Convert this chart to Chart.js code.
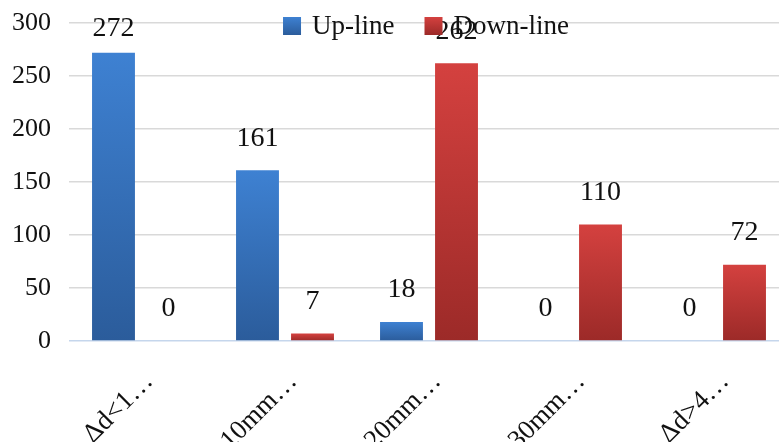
<!DOCTYPE html>
<html>
<head>
    <title>Up-line / Down-line</title>
    <script src="https://cdn.jsdelivr.net/npm/chart.js@4/dist/chart.umd.min.js"></script>
    <style>
        body {
            margin: 0;
            padding: 0;
            background: #ffffff;
            overflow: hidden;
        }
        #wrap {
            width: 790px;
            height: 442px;
        }
    </style>
</head>
<body>
    <div id="wrap">
        <canvas id="countChart" width="790" height="442"></canvas>
    </div>

    <script>
        // Deviation classes and counts per line
        const categories = ['Δd<10mm', '10mm≤Δd<20mm', '20mm≤Δd<30mm', '30mm≤Δd<40mm', 'Δd>40mm'];
        const seriesNames = ['Up-line', 'Down-line'];
        const upLine = [272, 161, 18, 0, 0];
        const downLine = [0, 7, 262, 110, 72];
        const yTicks = [0, 50, 100, 150, 200, 250, 300];

        const FONT = "'Liberation Serif', 'Times New Roman', serif";
        const colors = [
            { top: '#3e81d2', bottom: '#2b5c9b' },
            { top: '#d4413f', bottom: '#9c2a28' }
        ];

        // Short label like Excel does when the text doesn't fit
        function shorten(label) {
            return label.slice(0, 4) + '…';
        }

        // Vertical gradient over the height of each bar
        function barFill(c) {
            return function (ctx) {
                const chart = ctx.chart;
                if (!chart.chartArea || ctx.type !== 'data') return c.bottom;
                const y = chart.scales.y;
                const y0 = y.getPixelForValue(ctx.parsed.y);
                const y1 = y.getPixelForValue(0);
                if (y1 - y0 < 1) return c.bottom;
                const g = chart.ctx.createLinearGradient(0, y0, 0, y1);
                g.addColorStop(0, c.top);
                g.addColorStop(1, c.bottom);
                return g;
            };
        }

        // Value above every bar
        const valueLabels = {
            id: 'valueLabels',
            afterDatasetsDraw(chart) {
                const ctx = chart.ctx;
                ctx.save();
                ctx.font = '28px ' + FONT;
                ctx.fillStyle = '#111';
                ctx.textAlign = 'center';
                ctx.textBaseline = 'middle';
                chart.data.datasets.forEach((ds, i) => {
                    chart.getDatasetMeta(i).data.forEach((bar, j) => {
                        const y = Math.max(bar.y - 32, 29);
                        ctx.fillText(String(ds.data[j]), bar.x, y);
                    });
                });
                ctx.restore();
            }
        };

        // Legend sitting on top of the plot area
        const overlayLegend = {
            id: 'overlayLegend',
            afterDraw(chart) {
                const ctx = chart.ctx;
                ctx.save();
                ctx.font = '27px ' + FONT;
                ctx.textBaseline = 'middle';
                ctx.fillStyle = '#111';
                const box = 18, gap = 11, spacing = 30;
                const widths = chart.data.datasets.map(ds => box + gap + ctx.measureText(ds.label).width);
                const total = widths.reduce((a, b) => a + b, 0) + spacing * (widths.length - 1);
                let x = (chart.chartArea.left + chart.chartArea.right) / 2 - 3 - total / 2;
                const cy = 26;
                chart.data.datasets.forEach((ds, i) => {
                    const g = ctx.createLinearGradient(0, cy - box / 2, 0, cy + box / 2);
                    g.addColorStop(0, colors[i].top);
                    g.addColorStop(1, colors[i].bottom);
                    ctx.fillStyle = g;
                    ctx.fillRect(x, cy - box / 2, box, box);
                    ctx.fillStyle = '#111';
                    ctx.fillText(ds.label, x + box + gap, cy + 1);
                    x += widths[i] + spacing;
                });
                ctx.restore();
            }
        };

        const ctx = document.getElementById('countChart').getContext('2d');
        const countChart = new Chart(ctx, {
            type: 'bar',
            data: {
                labels: categories,
                datasets: [
                    {
                        label: seriesNames[0],
                        data: upLine,
                        backgroundColor: barFill(colors[0]),
                        categoryPercentage: 0.764,
                        barPercentage: 0.78
                    },
                    {
                        label: seriesNames[1],
                        data: downLine,
                        backgroundColor: barFill(colors[1]),
                        categoryPercentage: 0.764,
                        barPercentage: 0.78
                    }
                ]
            },
            options: {
                responsive: false,
                animation: false,
                layout: {
                    padding: { top: 23, right: 1, left: 0, bottom: 0 }
                },
                plugins: {
                    legend: { display: false },
                    tooltip: { enabled: false }
                },
                scales: {
                    x: {
                        grid: { display: false },
                        border: { display: false },
                        ticks: {
                            color: '#111',
                            font: { family: FONT, size: 27 },
                            maxRotation: 45,
                            minRotation: 45,
                            padding: 17,
                            labelOffset: 8,
                            autoSkip: false,
                            callback: function (value) {
                                return shorten(this.getLabelForValue(value));
                            }
                        },
                        afterFit(scale) {
                            scale.height = 101;
                        }
                    },
                    y: {
                        min: 0,
                        max: 300,
                        border: { display: false },
                        grid: {
                            drawTicks: false,
                            lineWidth: 1.5,
                            color: c => c.tick && c.tick.value === 0 ? '#c5d6ec' : '#d9d9d9'
                        },
                        afterBuildTicks(scale) {
                            scale.ticks = yTicks.map(v => ({ value: v }));
                        },
                        ticks: {
                            color: '#111',
                            font: { family: FONT, size: 26 },
                            padding: 18
                        },
                        afterFit(scale) {
                            scale.width = 69;
                            // the top label may poke above the plot, don't reserve room for it
                            scale.paddingTop = 0;
                            scale.paddingBottom = 0;
                        }
                    }
                }
            },
            plugins: [valueLabels, overlayLegend]
        });
    </script>
</body>
</html>
